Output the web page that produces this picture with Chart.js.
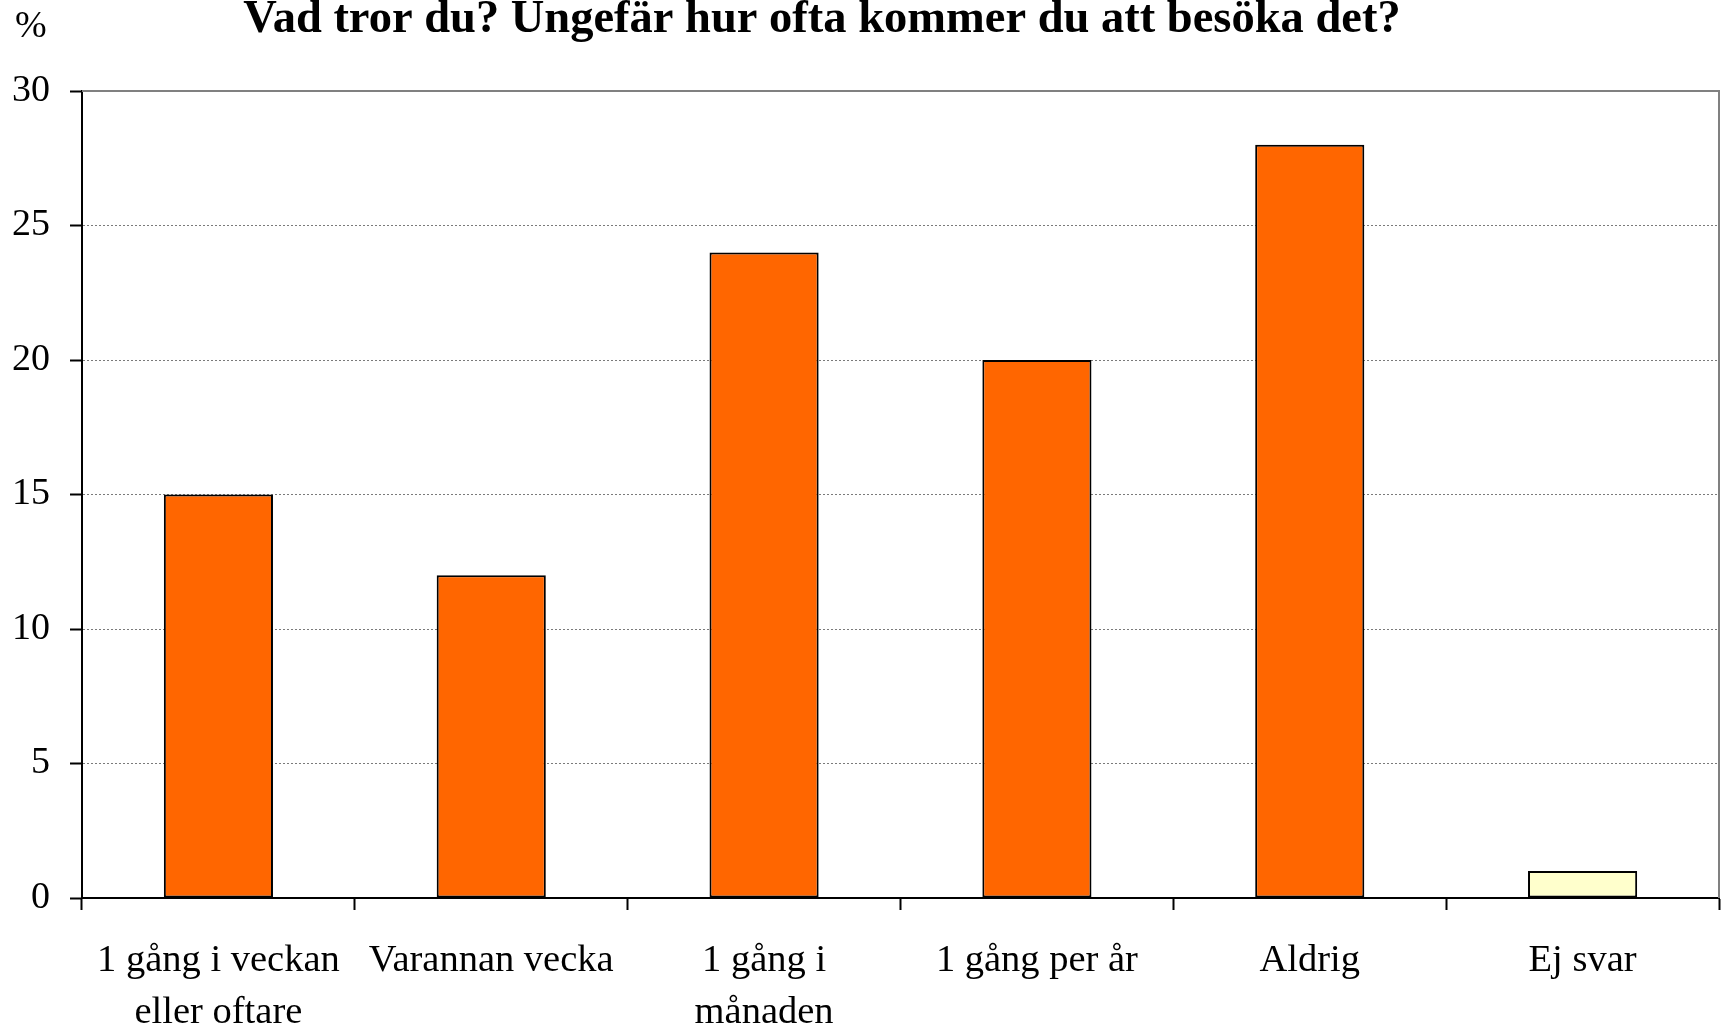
<!DOCTYPE html>
<html>
<head>
<meta charset="utf-8">
<script src="https://cdn.jsdelivr.net/npm/chart.js@4/dist/chart.umd.min.js"></script>
<style>
  html, body { margin: 0; padding: 0; background: #fff; }
  canvas { display: block; }
</style>
</head>
<body>
<canvas id="besok" width="1729" height="1028"></canvas>
<script>
var categories = [
    ["1 gång i veckan", "eller oftare"],
    "Varannan vecka",
    ["1 gång i", "månaden"],
    "1 gång per år",
    "Aldrig",
    "Ej svar"
];
var percent = [15, 12, 24, 20, 28, 1];
var barColors = ["#FF6600", "#FF6600", "#FF6600", "#FF6600", "#FF6600", "#FFFFCC"];
var yTicks = [0, 5, 10, 15, 20, 25, 30];

var titleText = "Vad tror du? Ungefär hur ofta kommer du att besöka det?";
var serif = "'Liberation Serif', 'Times New Roman', serif";

// title, "%" unit and grey frame on top/right of the plot
var decorations = {
    id: "decorations",
    afterDraw: function (chart) {
        var ctx = chart.ctx;
        var area = chart.chartArea;
        ctx.save();
        ctx.strokeStyle = "#808080";
        ctx.lineWidth = 2;
        ctx.beginPath();
        ctx.moveTo(area.left, area.top);
        ctx.lineTo(area.right, area.top);
        ctx.lineTo(area.right, area.bottom);
        ctx.stroke();

        ctx.fillStyle = "#000";
        ctx.textBaseline = "alphabetic";
        ctx.font = "bold 46.5px " + serif;
        ctx.textAlign = "center";
        ctx.fillText(titleText, 822, 32);
        ctx.font = "38px " + serif;
        ctx.textAlign = "left";
        ctx.fillText("%", 15, 37);
        ctx.restore();
    }
};

new Chart(document.getElementById("besok"), {
    type: "bar",
    data: {
        labels: categories,
        datasets: [
            {
                data: percent,
                backgroundColor: barColors,
                borderColor: "#000",
                borderWidth: 2,
                borderSkipped: false,
                categoryPercentage: 1,
                barPercentage: 0.4
            }
        ]
    },
    options: {
        responsive: false,
        animation: false,
        layout: { padding: { top: 91, right: 10, left: 0, bottom: 0 } },
        plugins: {
            legend: { display: false },
            title: { display: false },
            tooltip: { enabled: false }
        },
        scales: {
            x: {
                grid: {
                    offset: true,
                    drawOnChartArea: false,
                    drawTicks: true,
                    tickLength: 12,
                    tickWidth: 2,
                    tickColor: "#000"
                },
                border: { color: "#000", width: 2 },
                ticks: {
                    color: "#000",
                    maxRotation: 0,
                    autoSkip: false,
                    padding: 25,
                    font: { family: serif, size: 38.5, lineHeight: 1.35 }
                },
                afterFit: function (scale) { scale.height = 130; }
            },
            y: {
                min: 0,
                max: 30,
                afterBuildTicks: function (scale) {
                    scale.ticks = yTicks.map(function (v) { return { value: v }; });
                },
                grid: {
                    color: "#7a7a7a",
                    lineWidth: 1,
                    tickLength: 12,
                    tickWidth: 2,
                    tickColor: "#000"
                },
                border: { color: "#000", width: 2, dash: [2, 2] },
                ticks: {
                    color: "#000",
                    padding: 20,
                    font: { family: serif, size: 38 }
                },
                afterFit: function (scale) { scale.width = 82; }
            }
        }
    },
    plugins: [decorations]
});
</script>
</body>
</html>
